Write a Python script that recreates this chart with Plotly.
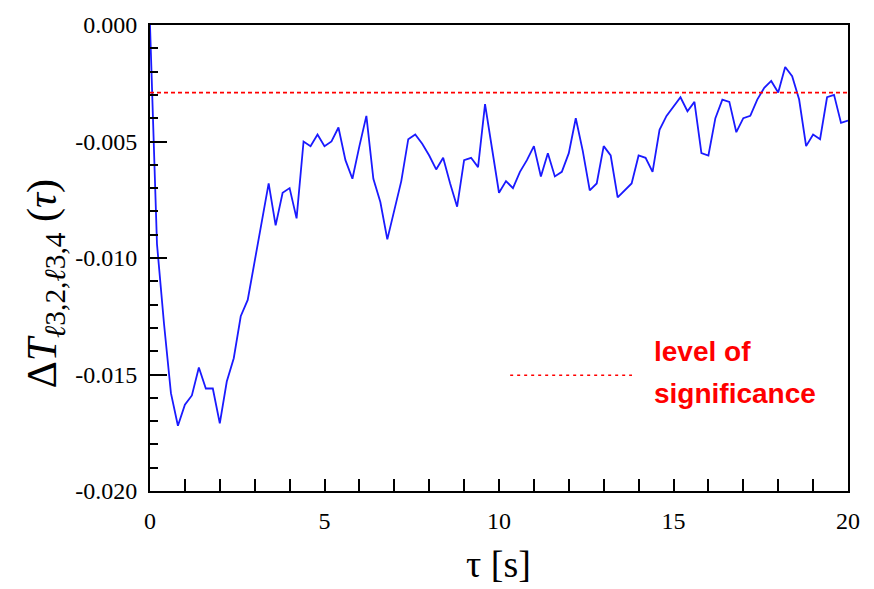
import plotly.graph_objects as go

tau = [0.0, 0.2, 0.4, 0.6, 0.8, 1.0, 1.2, 1.4, 1.6, 1.8,
       2.0, 2.2, 2.4, 2.6, 2.8, 3.0, 3.2, 3.4, 3.6, 3.8,
       4.0, 4.2, 4.4, 4.6, 4.8, 5.0, 5.2, 5.4, 5.6, 5.8,
       6.0, 6.2, 6.4, 6.6, 6.8, 7.0, 7.2, 7.4, 7.6, 7.8,
       8.0, 8.2, 8.4, 8.6, 8.8, 9.0, 9.2, 9.4, 9.6, 9.8,
       10.0, 10.2, 10.4, 10.6, 10.8, 11.0, 11.2, 11.4, 11.6, 11.8,
       12.0, 12.2, 12.4, 12.6, 12.8, 13.0, 13.2, 13.4, 13.6, 13.8,
       14.0, 14.2, 14.4, 14.6, 14.8, 15.0, 15.2, 15.4, 15.6, 15.8,
       16.0, 16.2, 16.4, 16.6, 16.8, 17.0, 17.2, 17.4, 17.6, 17.8,
       18.0, 18.2, 18.4, 18.6, 18.8, 19.0, 19.2, 19.4, 19.6, 19.8,
       20.0]

delta_T = [0.0000, -0.0094, -0.0128, -0.0158, -0.0172, -0.0163, -0.0159, -0.0147, -0.0156, -0.0156,
           -0.0171, -0.0153, -0.0143, -0.0125, -0.0118, -0.0101, -0.0084, -0.0068, -0.0086, -0.0072,
           -0.0070, -0.0083, -0.0050, -0.0052, -0.0047, -0.0052, -0.0050, -0.0044, -0.0058, -0.0066,
           -0.0052, -0.0039, -0.0066, -0.0076, -0.0092, -0.0080, -0.0067, -0.0049, -0.0047, -0.0051,
           -0.0056, -0.0062, -0.0057, -0.0068, -0.0078, -0.0058, -0.0057, -0.0061, -0.0034, -0.0053,
           -0.0072, -0.0067, -0.0070, -0.0063, -0.0058, -0.0052, -0.0065, -0.0055, -0.0065, -0.0063,
           -0.0055, -0.0040, -0.0054, -0.0071, -0.0068, -0.0052, -0.0056, -0.0074, -0.0071, -0.0068,
           -0.0056, -0.0057, -0.0063, -0.0045, -0.0039, -0.0035, -0.0031, -0.0037, -0.0033, -0.0055,
           -0.0056, -0.0040, -0.0032, -0.0033, -0.0046, -0.0040, -0.0039, -0.0032, -0.0027, -0.0024,
           -0.0029, -0.0018, -0.0022, -0.0032, -0.0052, -0.0047, -0.0049, -0.0031, -0.0030, -0.0042,
           -0.0041]

significance_x = [0, 20]
significance_level = [-0.0029, -0.0029]

x_tickvals = [0, 5, 10, 15, 20]
x_ticktext = ["0", "5", "10", "15", "20"]
y_tickvals = [0.0, -0.005, -0.010, -0.015, -0.020]
y_ticktext = ["0.000", "-0.005", "-0.010", "-0.015", "-0.020"]

serif = "Liberation Serif"
sans = "Liberation Sans"

fig = go.Figure()
fig.add_trace(go.Scatter(x=tau, y=delta_T, mode="lines",
                         line=dict(color="#1a1aff", width=1.8), showlegend=False))
fig.add_trace(go.Scatter(x=significance_x, y=significance_level, mode="lines",
                         line=dict(color="#ff0000", width=1.8, dash="4px,3px"), showlegend=False))

fig.update_layout(
    width=874, height=589,
    margin=dict(l=150, r=26, t=20, b=98),
    paper_bgcolor="white", plot_bgcolor="white",
    showlegend=False,
)

fig.update_xaxes(
    range=[0, 20], tickvals=x_tickvals, ticktext=x_ticktext,
    ticks="inside", ticklen=12, tickwidth=1.5, tickcolor="black",
    minor=dict(dtick=1, tick0=0, ticks="inside", ticklen=12, tickwidth=1.5, tickcolor="black"),
    showline=True, linecolor="black", linewidth=2, mirror=True,
    showgrid=False, zeroline=False,
    tickfont=dict(family=serif, size=24, color="black"),
    ticklabelstandoff=7,
)
fig.update_yaxes(
    range=[-0.020, 0.000], tickvals=y_tickvals, ticktext=y_ticktext,
    ticks="inside", ticklen=17, tickwidth=1.5, tickcolor="black",
    minor=dict(dtick=0.001, tick0=0, ticks="inside", ticklen=8, tickwidth=1.5, tickcolor="black"),
    showline=True, linecolor="black", linewidth=2, mirror=True,
    showgrid=False, zeroline=False,
    tickfont=dict(family=serif, size=24, color="black"),
    ticklabelstandoff=6,
)

# Legend-like key inside plot
fig.add_shape(type="line", xref="paper", yref="paper",
              x0=0.516, x1=0.6905, y0=0.2484, y1=0.2484,
              line=dict(color="#ff0000", width=1.3, dash="3px,4px"))
fig.add_annotation(text="<b>level of</b>", xref="paper", yref="paper",
                   x=0.719, y=0.2994, xanchor="left", yanchor="middle", showarrow=False,
                   font=dict(family=sans, size=28, color="#ff0000"))
fig.add_annotation(text="<b>significance</b>", xref="paper", yref="paper",
                   x=0.719, y=0.2102, xanchor="left", yanchor="middle", showarrow=False,
                   font=dict(family=sans, size=28, color="#ff0000"))

# Axis titles
fig.add_annotation(text="τ [s]", xref="paper", yref="paper",
                   x=0.4986, y=-0.157, xanchor="center", yanchor="middle", showarrow=False,
                   font=dict(family=serif, size=38, color="black"))
fig.add_annotation(text="Δ<i>T</i><sub><i>ℓ</i>3,2,<i>ℓ</i>3,4</sub> (<i>τ</i>)",
                   xref="paper", yref="paper",
                   x=-0.1504, y=0.4437, xanchor="center", yanchor="middle", showarrow=False,
                   textangle=-90,
                   font=dict(family=serif, size=42, color="black"))

fig.write_html("out.html")
